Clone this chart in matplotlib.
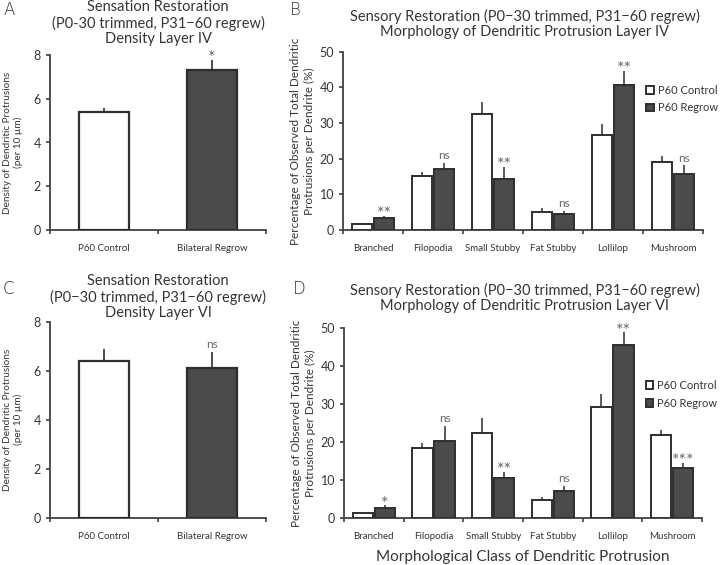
import matplotlib
matplotlib.use("Agg")
import matplotlib.pyplot as plt
import numpy as np

plt.rcParams['font.family'] = ['Lato', 'DejaVu Sans']

# density panels (A: layer IV, C: layer VI)
groups = ['P60 Control', 'Bilateral Regrow']
dens_iv = [5.38, 7.31]
dens_iv_err = [0.18, 0.46]
dens_iv_sig = ['*']
dens_vi = [6.41, 6.12]
dens_vi_err = [0.46, 0.66]
dens_vi_sig = ['ns']

# morphology panels (B: layer IV, D: layer VI)
classes = ['Branched', 'Filopodia', 'Small Stubby', 'Fat Stubby', 'Lollilop', 'Mushroom']
ctrl_iv = [1.6, 15.2, 32.4, 5.1, 26.7, 19.0]
ctrl_iv_err = [0.45, 1.0, 3.4, 1.0, 2.9, 1.7]
regrow_iv = [3.45, 17.2, 14.4, 4.4, 40.7, 15.8]
regrow_iv_err = [0.45, 1.7, 3.4, 1.0, 4.0, 2.3]
sig_iv = ['**', 'ns', '**', 'ns', '**', 'ns']

ctrl_vi = [1.3, 18.4, 22.5, 4.8, 29.3, 21.8]
ctrl_vi_err = [0.3, 1.4, 4.0, 0.9, 3.3, 1.4]
regrow_vi = [2.8, 20.4, 10.5, 7.3, 45.5, 13.3]
regrow_vi_err = [0.6, 4.0, 1.8, 1.3, 3.4, 1.3]
sig_vi = ['*', 'ns', '**', 'ns', '**', '***']

TXT = '#353535'
EDGE = '#2e2e2e'
DARK = '#4b4b4b'
SIG = '#6a6a6a'

W, H = 720, 565
fig = plt.figure(figsize=(7.2, 5.65), dpi=100)


def px_axes(l, r, top, bot):
    return fig.add_axes([l / W, 1 - bot / H, (r - l) / W, (bot - top) / H])


def style(ax, ymax, ystep, ncat):
    for s in ['top', 'right']:
        ax.spines[s].set_visible(False)
    for s in ['left', 'bottom']:
        ax.spines[s].set_color('#404040')
        ax.spines[s].set_linewidth(1.3)
    ax.set_ylim(0, ymax)
    ax.set_yticks(np.arange(0, ymax + 0.01, ystep))
    ax.set_xlim(0, ncat)
    ax.set_xticks(np.arange(0, ncat + 1))
    ax.set_xticklabels([])
    ax.tick_params(axis='both', which='major', direction='out', length=3,
                   width=1.2, color='#404040', labelsize=9, labelcolor=TXT)
    ax.tick_params(axis='x', which='minor', length=0, pad=10, labelsize=7,
                   labelcolor=TXT)


def mark(ax, x, top, s):
    # stars drawn bigger than "ns", as in the figure
    fs = 8.5 if s == 'ns' else 13
    dy = 1 if s == 'ns' else -4.5
    ax.annotate(s, (x, top), xytext=(0, dy), textcoords='offset points',
                ha='center', va='bottom', fontsize=fs, color=SIG)


def density(ax, vals, errs, sig):
    style(ax, 8, 2, 2)
    x = np.arange(2) + 0.5
    ax.bar(x, vals, width=0.47, color=['white', DARK], edgecolor=EDGE,
           linewidth=1.6, zorder=3)
    ax.errorbar(x, vals, yerr=[np.zeros(2), errs], fmt='none', ecolor=EDGE,
                elinewidth=1.2, capsize=0, zorder=2)
    ax.set_xticks(x, minor=True)
    ax.set_xticklabels(groups, minor=True)
    mark(ax, x[1], vals[1] + errs[1], sig[0])
    ax.set_ylabel('Density of Dendritic Protrusions\n(per 10 µm)',
                  fontsize=7.2, color=TXT, linespacing=1.25)
    ax.yaxis.set_label_coords(-0.125, 0.5)


def morph(ax, c, ce, r, re, sig, leg_y):
    style(ax, 50, 10, 6)
    x = np.arange(6) + 0.5
    ax.bar(x - 0.185, c, width=0.34, color='white', edgecolor=EDGE,
           linewidth=1.4, zorder=3, label='P60 Control')
    ax.bar(x + 0.185, r, width=0.34, color=DARK, edgecolor=EDGE,
           linewidth=1.4, zorder=3, label='P60 Regrow')
    ax.errorbar(x - 0.185, c, yerr=[np.zeros(6), ce], fmt='none', ecolor=EDGE,
                elinewidth=1.1, capsize=0, zorder=2)
    ax.errorbar(x + 0.185, r, yerr=[np.zeros(6), re], fmt='none', ecolor=EDGE,
                elinewidth=1.1, capsize=0, zorder=2)
    for xi, v, e, s in zip(x + 0.185, r, re, sig):
        mark(ax, xi, v + e, s)
    ax.set_xticks(x, minor=True)
    ax.set_xticklabels(classes, minor=True)
    ax.set_ylabel('Percentage of Observed Total Dendritic\nProtrusions per Dendrite (%)',
                  fontsize=8.5, color=TXT, linespacing=1.3)
    ax.yaxis.set_label_coords(-0.078, 0.5)
    leg = ax.legend(loc='upper left', bbox_to_anchor=(0.83, leg_y), frameon=False,
                    fontsize=8, handlelength=0.7, handleheight=0.7,
                    handletextpad=0.35, labelspacing=0.6, borderaxespad=0)
    for t in leg.get_texts():
        t.set_color(TXT)


axA = px_axes(50, 266, 55, 230)
density(axA, dens_iv, dens_iv_err, dens_iv_sig)
fig.text(158 / W, 1 - 0 / H,
         'Sensation Restoration\n(P0-30 trimmed, P31\u221260 regrew)\nDensity Layer IV',
         ha='center', va='top', fontsize=10.5, color=TXT, linespacing=1.13)

axB = px_axes(343, 703, 51.7, 230)
morph(axB, ctrl_iv, ctrl_iv_err, regrow_iv, regrow_iv_err, sig_iv, 0.84)
fig.text(525 / W, 1 - 9 / H,
         'Sensory Restoration (P0\u221230 trimmed, P31\u221260 regrew)\nMorphology of Dendritic Protrusion Layer IV',
         ha='center', va='top', fontsize=10.5, color=TXT, linespacing=1.13)

axC = px_axes(50, 266, 321.7, 517.7)
density(axC, dens_vi, dens_vi_err, dens_vi_sig)
fig.text(158 / W, 1 - 274 / H,
         'Sensation Restoration\n(P0\u221230 trimmed, P31\u221260 regrew)\nDensity Layer VI',
         ha='center', va='top', fontsize=10.5, color=TXT, linespacing=1.13)

axD = px_axes(344, 702, 328.3, 518.3)
morph(axD, ctrl_vi, ctrl_vi_err, regrow_vi, regrow_vi_err, sig_vi, 0.75)
fig.text(525 / W, 1 - 283 / H,
         'Sensory Restoration (P0\u221230 trimmed, P31\u221260 regrew)\nMorphology of Dendritic Protrusion Layer VI',
         ha='center', va='top', fontsize=10.5, color=TXT, linespacing=1.13)
fig.text(523 / W, 1 - 557 / H, 'Morphological Class of Dendritic Protrusion',
         ha='center', va='center', fontsize=11, color=TXT)

for lab, xp, yp in [('A', 3, 10), ('B', 290, 10), ('C', 3, 289), ('D', 293, 289)]:
    fig.text(xp / W, 1 - yp / H, lab, ha='left', va='center', fontsize=12,
             color='#333333', family=['DejaVu Sans'], fontweight='light')

fig.savefig('out.png', dpi=100)
